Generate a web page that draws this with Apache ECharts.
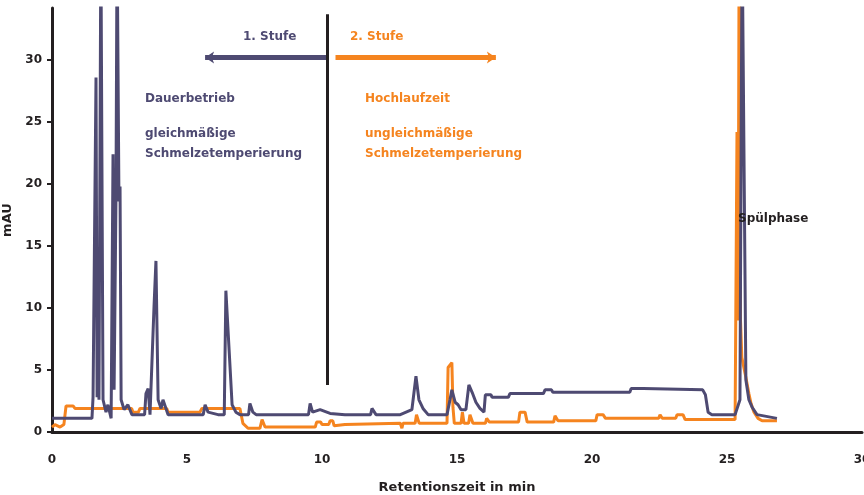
<!DOCTYPE html>
<html>
<head>
<meta charset="utf-8">
<script src="https://cdn.jsdelivr.net/npm/echarts@6/dist/echarts.min.js"></script>
<style>html,body{margin:0;padding:0;background:#fff;overflow:hidden}#c{width:864px;height:495px}</style>
</head>
<body>
<div id="c"></div>
<script>
// Purple trace (1. Stufe) — time in min, signal
var purpleTime = [0,1.48,1.52,1.59,1.63,1.67,1.70,1.74,1.81,1.89,2.00,2.07,2.19,2.26,2.30,2.37,2.41,2.48,2.52,2.56,2.67,2.81,2.96,3.26,3.43,3.48,3.56,3.63,3.78,3.85,3.93,4.04,4.11,4.30,5.60,5.67,5.78,6.15,6.38,6.44,6.56,6.67,6.81,6.96,7.28,7.33,7.44,7.56,9.50,9.56,9.65,9.93,10.3,10.85,11.80,11.85,12.0,12.9,13.33,13.48,13.59,13.74,13.93,14.63,14.74,14.81,14.93,15.04,15.15,15.33,15.44,15.56,15.70,15.85,16.0,16.05,16.26,16.3,16.9,16.96,18.2,18.26,18.5,18.55,21.4,21.45,21.9,21.95,24.1,24.2,24.3,24.44,25.3,25.48,25.56,25.7,25.81,25.93,26.11,26.85];
var purpleValue = [1.1,1.1,2.8,2.8,28.6,2.8,6.2,2.6,40,2.6,1.6,2.2,1.1,22.4,3.4,19,40,18.6,19.8,2.6,1.8,2.2,1.4,1.4,1.4,3.1,3.5,1.4,10.2,13.8,2.6,1.9,2.6,1.4,1.4,2.2,1.6,1.4,1.4,11.4,6.6,2.2,1.6,1.4,1.4,2.3,1.6,1.4,1.4,2.3,1.6,1.8,1.5,1.4,1.4,1.9,1.4,1.4,1.8,4.5,2.6,1.9,1.4,1.4,2.6,3.4,2.4,2.2,1.8,1.8,3.8,3.2,2.4,1.9,1.6,3.0,3.0,2.8,2.8,3.1,3.1,3.4,3.4,3.2,3.2,3.5,3.5,3.4,3.4,3.0,1.6,1.4,1.4,2.6,40,4.2,2.6,2.0,1.4,1.1];
// Orange trace (2. Stufe)
var orangeTime = [0,0.11,0.3,0.44,0.52,0.78,0.85,2.95,3.0,3.2,3.26,4.25,4.3,5.48,5.55,6.96,7.07,7.26,7.70,7.78,7.89,9.75,9.80,9.95,10.0,10.25,10.3,10.4,10.45,10.85,12.9,12.96,13.0,13.45,13.5,13.6,14.63,14.67,14.81,14.85,14.9,15.15,15.2,15.26,15.43,15.48,15.59,16.05,16.1,16.2,17.28,17.33,17.52,17.6,18.58,18.63,18.74,20.14,20.19,20.41,20.5,21.52,22.47,22.52,22.6,23.1,23.15,23.37,23.45,25.3,25.37,25.41,25.45,25.5,25.55,25.7,25.81,25.89,26.0,26.15,26.3,26.85];
var orangeValue = [0.4,0.6,0.4,0.6,2.1,2.1,1.9,1.9,1.6,1.6,1.9,1.9,1.6,1.6,1.9,1.9,0.7,0.3,0.3,1.0,0.4,0.4,0.8,0.8,0.6,0.6,0.9,0.9,0.5,0.6,0.7,0.3,0.7,0.7,1.4,0.7,0.7,5.2,5.6,2.0,0.7,0.7,1.6,0.7,0.7,1.4,0.7,0.7,1.1,0.8,0.8,1.6,1.6,0.8,0.8,1.3,0.9,0.9,1.4,1.4,1.1,1.1,1.1,1.4,1.1,1.1,1.4,1.4,1.0,1.0,24.2,9.0,40,9.0,6.0,4.4,3.1,2.3,1.6,1.1,0.9,0.9];
var xTicks = [0,5,10,15,20,25,30];
var yTicks = [0,5,10,15,20,25,30];
var stageSplit = 10.2;          // min, vertical divider
var stageArrowY = 30.2;         // signal level of arrows
var purpleArrowEnd = 5.67, orangeArrowEnd = 16.44;
var labels = {
  stage1: '1. Stufe', stage2: '2. Stufe',
  left: ['Dauerbetrieb', 'gleichmäßige', 'Schmelzetemperierung'],
  right: ['Hochlaufzeit', 'ungleichmäßige', 'Schmelzetemperierung'],
  rinse: 'Spülphase',
  xName: 'Retentionszeit in min', yName: 'mAU'
};

var PURPLE = '#4e4a72', ORANGE = '#f5841f', INK = '#231f20';
var FONT = '"DejaVu Sans", "Liberation Sans", sans-serif';
function pairs(t, v){ return t.map(function(x,i){ return [x, v[i]]; }); }

var chart = echarts.init(document.getElementById('c'), null, {renderer:'canvas'});
var txt = function(s, x, y, c){ return {type:'text', left:x, top:y, z:100, style:{text:s, fill:c, font:'bold 12px '+FONT}}; };
var g = [
  txt(labels.stage1, 243, 31, PURPLE),
  txt(labels.stage2, 350, 31, ORANGE),
  txt(labels.left[0], 145, 93, PURPLE),
  txt(labels.left[1], 145, 128, PURPLE),
  txt(labels.left[2], 145, 148, PURPLE),
  txt(labels.right[0], 365, 93, ORANGE),
  txt(labels.right[1], 365, 128, ORANGE),
  txt(labels.right[2], 365, 148, ORANGE),
  txt(labels.rinse, 738, 213, INK)
];

chart.setOption({
  animation:false,
  backgroundColor:'#fff',
  grid:{left:52, right:2, top:8, bottom:63, containLabel:false, outerBoundsMode:'none'},
  xAxis:{type:'value', min:0, max:30, interval:5,
    axisLine:{lineStyle:{color:INK, width:3}}, axisTick:{show:false}, splitLine:{show:false},
    axisLabel:{margin:22, color:INK, fontFamily:FONT, fontWeight:'bold', fontSize:12,
      formatter:function(v){ return xTicks.indexOf(v)>=0 ? String(v) : ''; }},
    name:labels.xName, nameLocation:'middle', nameGap:49,
    nameTextStyle:{color:INK, fontFamily:FONT, fontWeight:'bold', fontSize:13}},
  yAxis:{type:'value', min:0, max:34.2, interval:5,
    axisLine:{show:true, lineStyle:{color:INK, width:3}}, axisTick:{show:true, length:5, lineStyle:{color:INK, width:2}},
    splitLine:{show:false},
    axisLabel:{margin:10, color:INK, fontFamily:FONT, fontWeight:'bold', fontSize:12, showMaxLabel:false,
      formatter:function(v){ return yTicks.indexOf(v)>=0 ? String(v) : ''; }},
    name:labels.yName, nameLocation:'middle', nameGap:33, nameRotate:90,
    nameTextStyle:{color:INK, fontFamily:FONT, fontWeight:'bold', fontSize:13}},
  graphic:g,
  series:[
    {type:'line', data:pairs(orangeTime, orangeValue), showSymbol:false, clip:true, z:2,
      lineStyle:{color:ORANGE, width:3}, itemStyle:{color:ORANGE},
      markLine:{silent:true, symbol:['none','none'], label:{show:false},
        data:[[{coord:[stageSplit+0.3, stageArrowY], symbol:'none'},
               {coord:[orangeArrowEnd, stageArrowY], symbol:'arrow', symbolSize:[9,9]}]],
        lineStyle:{color:ORANGE, width:5, type:'solid'}}},
    {type:'line', data:pairs(purpleTime, purpleValue), showSymbol:false, clip:true, z:3,
      lineStyle:{color:PURPLE, width:3}, itemStyle:{color:PURPLE},
      markLine:{silent:true, symbol:['none','none'], label:{show:false},
        data:[
          [{coord:[stageSplit, stageArrowY], symbol:'none'},
           {coord:[purpleArrowEnd, stageArrowY], symbol:'arrow', symbolSize:[9,9]}],
          [{coord:[stageSplit, 3.8], symbol:'none', lineStyle:{color:INK, width:3}},
           {coord:[stageSplit, 33.7], symbol:'none'}]
        ],
        lineStyle:{color:PURPLE, width:5, type:'solid'}}}
  ]
});
</script>
</body>
</html>
